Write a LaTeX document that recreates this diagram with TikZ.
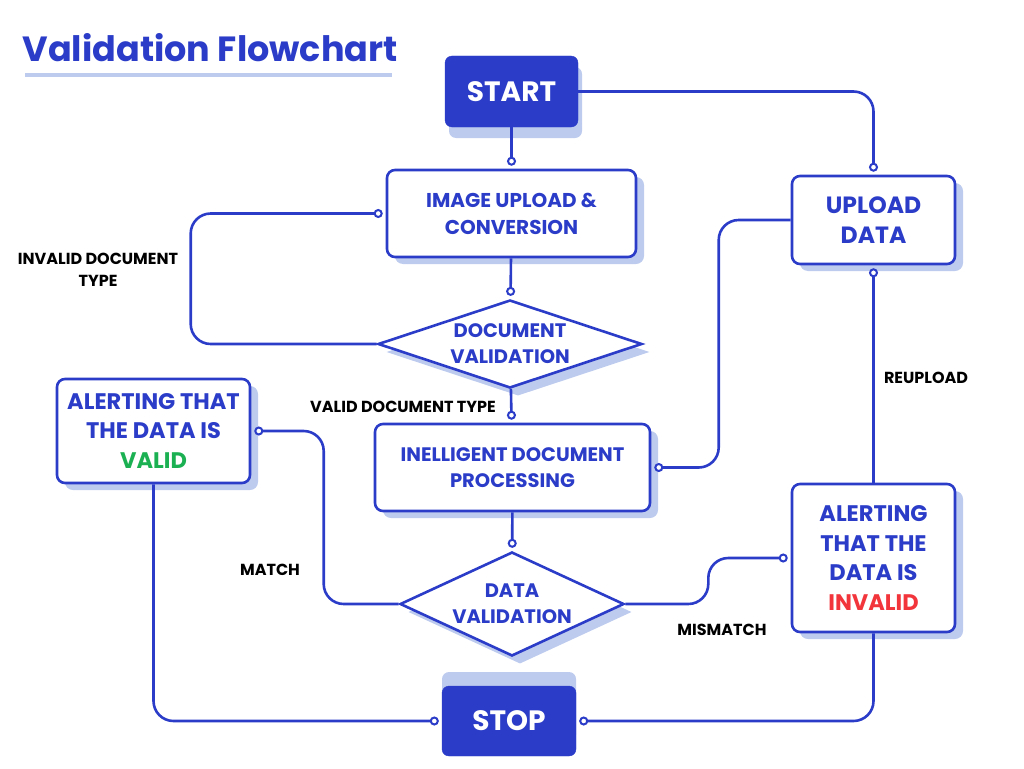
\documentclass[tikz,border=0pt]{standalone}
\usepackage{fontspec}
\setmainfont{Poppins}
\usetikzlibrary{shapes.geometric,arrows.meta,shadows}
\definecolor{flowblue}{HTML}{2A3CC8}
\definecolor{flowshade}{HTML}{BDCBEE}
\definecolor{okgreen}{HTML}{1BB152}
\definecolor{badred}{HTML}{F2343B}

\begin{document}
\begin{tikzpicture}[x=1pt, y=-1pt,
    box/.style={draw=flowblue, line width=2.6pt, rounded corners=8pt, fill=white,
      text=flowblue, align=center,
      drop shadow={shadow xshift=8pt, shadow yshift=-7pt, fill=flowshade, opacity=1}},
    terminal/.style={draw=flowblue, fill=flowblue, rounded corners=7pt, text=white,
      font=\bfseries\fontsize{28}{32}\selectfont},
    decision/.style={diamond, draw=flowblue, line width=2.6pt, fill=white, inner sep=0pt,
      text=flowblue, align=center,
      drop shadow={shadow xshift=8pt, shadow yshift=-8pt, fill=flowshade, opacity=1}},
    flow/.style={draw=flowblue, line width=2.6pt, rounded corners=20pt, shorten >=3pt,
      -{Circle[open, fill=white, length=9pt, width=9pt, line width=2pt]}},
    note/.style={font=\bfseries\fontsize{16}{22}\selectfont, align=center}]

        \useasboundingbox (0,0) rectangle (1024,768);

        \node[anchor=west, text=flowblue, font=\bfseries\fontsize{35}{40}\selectfont] (title) at (19,48) {Validation Flowchart};
        \draw[flowshade, line width=4pt] (25,75) -- (392,75);

        \node[terminal, minimum width=133pt, minimum height=71pt,
          drop shadow={shadow xshift=4pt, shadow yshift=-11pt, fill=flowshade, opacity=1}] (start) at (511.5,91.5) {START};
        \node[terminal, minimum width=134pt, minimum height=70pt,
          drop shadow={shadow xshift=0pt, shadow yshift=14pt, fill=flowshade, opacity=1}] (stop) at (509,721) {STOP};

        \begin{scope}[every node/.style={font=\bfseries\fontsize{19.5}{26}\selectfont}]
          \node[box, minimum width=249pt, minimum height=87pt, font=\bfseries\fontsize{20}{27}\selectfont] (conv)  at (511.5,213.5) {IMAGE UPLOAD \&\\CONVERSION};
          \node[box, minimum width=275pt, minimum height=87pt] (proc)  at (512.5,467.5) {INELLIGENT DOCUMENT\\PROCESSING};
          \node[decision, aspect=3, minimum width=264pt, minimum height=88pt] (docval)  at (510,344) {DOCUMENT\\VALIDATION};
          \node[decision, aspect=2.15, minimum width=224pt, minimum height=104pt] (dataval) at (512,604) {DATA\\VALIDATION};
        \end{scope}

        \begin{scope}[every node/.style={font=\bfseries\fontsize{22.5}{29.5}\selectfont}]
          \node[box, minimum width=163pt, minimum height=88pt, font=\bfseries\fontsize{23.5}{30}\selectfont] (upd) at (873.5,220) {UPLOAD\\DATA};
          \node[box, minimum width=193pt, minimum height=104pt] (valid)   at (153.5,431) {ALERTING THAT\\THE DATA IS\\\textcolor{okgreen}{VALID}};
          \node[box, minimum width=163pt, minimum height=148pt] (invalid) at (873.5,558) {ALERTING\\THAT THE\\DATA IS\\\textcolor{badred}{INVALID}};
        \end{scope}

        \begin{scope}[every node/.style={note}]
          \node (n1) at (98,270)  {INVALID DOCUMENT\\TYPE};
          \node (n2) at (403,407) {VALID DOCUMENT TYPE};
          \node (n3) at (270,570) {MATCH};
          \node (n4) at (722,630) {MISMATCH};
          \node (n5) at (926,378) {REUPLOAD};
        \end{scope}

        \path[flow] (start)    -- (conv);
        \path[flow] (conv)     -- (docval);
        \path[flow] (docval.west) -- ++(-186,0) |- (conv.west);
        \path[flow] (docval)   -- (proc);
        \path[flow] (start.east) -| (upd.north);
        \path[flow] (upd.west) -- ++(-72,0) |- (proc.east);
        \path[flow] (invalid)  -- (upd);
        \path[flow] (proc)     -- (dataval);
        \path[flow] (dataval.west) -- ++(-75,0) |- (valid.east);
        \path[flow] (dataval.east) -- ++(83,0) |- (invalid.west);
        \path[flow] (valid.south) |- (stop.west);
        \path[flow] (invalid.south) |- (stop.east);

      \end{tikzpicture}
\end{document}
